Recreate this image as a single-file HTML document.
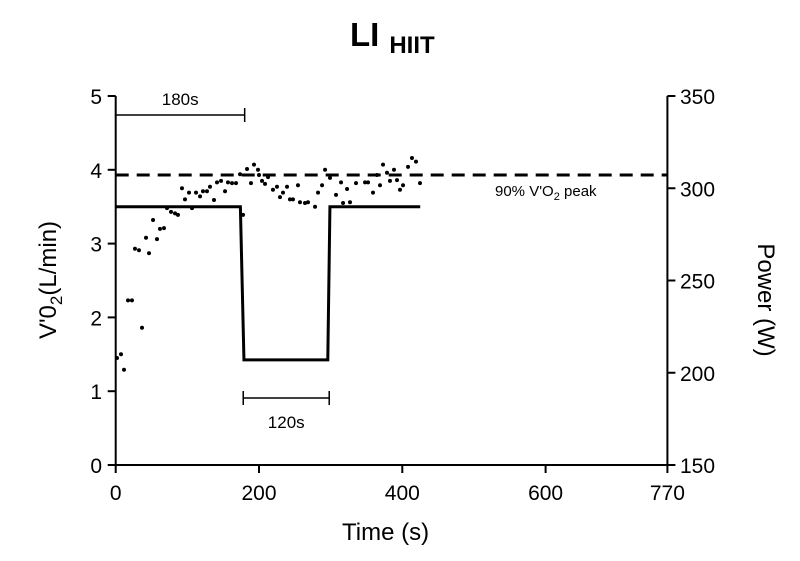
<!DOCTYPE html>
<html><head><meta charset="utf-8"><style>
body{margin:0;background:#fff;}
svg text{font-family:"Liberation Sans",Arial,sans-serif;fill:#000;}
</style></head><body>
<svg id="chart" width="800" height="556" viewBox="0 0 800 556" xmlns="http://www.w3.org/2000/svg">
<text x="350" y="46" font-size="33" font-weight="bold">LI<tspan font-size="24" dx="10" dy="7">HIIT</tspan></text>
<g id="axes"></g><g id="marks"></g>
</svg>
<script>
const xTicks=[0,200,400,600,770];
const yLeftTicks=[0,1,2,3,4,5];
const yRightTicks=[150,200,250,300,350];
const vo2Time=[1.8,7.4,11.6,17.2,22.7,26.9,32.5,36.7,42.3,46.5,52.1,57.6,61.8,67.4,71.6,77.2,82.8,86.9,92.5,96.7,102.3,106.5,112.1,117.7,121.8,127.4,131.6,137.2,141.4,147,152.6,156.7,162.3,167.9,173.5,177.7,183.3,188.8,193,198.6,200,204.2,208.4,212.6,219.5,225.1,229.3,233.5,239.1,243.2,247.4,254.4,257.2,264.2,268.4,278.2,282.4,288,292.2,299.1,307.5,314.5,317.3,322.9,327,335.4,348,352.2,359.1,364.7,368.9,373.1,378.6,382.8,388.4,392.6,396.8,401,408,413.5,419.1,424.7];
const vo2Values=[1.45,1.5,1.29,2.23,2.23,2.93,2.91,1.86,3.08,2.87,3.32,3.06,3.2,3.21,3.48,3.43,3.41,3.39,3.75,3.6,3.69,3.48,3.69,3.64,3.71,3.71,3.77,3.59,3.83,3.85,3.71,3.83,3.82,3.82,3.94,3.39,4.01,3.82,4.07,4.0,3.93,3.85,3.81,3.9,3.73,3.77,3.63,3.69,3.77,3.6,3.6,3.79,3.56,3.55,3.56,3.5,3.69,3.79,4.0,3.89,3.66,3.83,3.55,3.74,3.56,3.82,3.83,3.83,3.69,3.93,3.79,4.07,3.96,3.85,4.0,3.86,3.73,3.79,4.04,4.16,4.11,3.82];
const powerTime=[0,174,179,296,299,425];
const powerValues=[290,290,207,207,290,290];
const peak90=3.93;
const ns="http://www.w3.org/2000/svg";
const X=t=>115.7+t*0.7165, YL=v=>465-v*73.8, YR=w=>465-(w-150)*1.845;
const axes=document.getElementById('axes'), marks=document.getElementById('marks');
function mk(p,tag,a){const e=document.createElementNS(ns,tag);for(const k in a)e.setAttribute(k,a[k]);p.appendChild(e);return e;}
let e;
e=mk(axes,'path',{d:`M${X(0)} ${YL(5)}V${YL(0)}H${X(770)}V${YL(5)}`,fill:'none',stroke:'#000','stroke-width':2});


xTicks.forEach(t=>{
 e=mk(axes,'line',{x1:X(t),x2:X(t),y1:465,y2:473,stroke:'#000','stroke-width':2});
 
 
 e=mk(axes,'text',{x:X(t),y:500,'font-size':21,'text-anchor':'middle'});e.textContent=t;
 
 
});
yLeftTicks.forEach(v=>{
 e=mk(axes,'line',{x1:X(0)-8,x2:X(0),y1:YL(v),y2:YL(v),stroke:'#000','stroke-width':2});
 
 
 e=mk(axes,'text',{x:102,y:YL(v)+8,'font-size':21,'text-anchor':'end'});e.textContent=v;
 
 
});
yRightTicks.forEach(w=>{
 e=mk(axes,'line',{x1:X(770),x2:X(770)+8,y1:YR(w),y2:YR(w),stroke:'#000','stroke-width':2});
 
 
 e=mk(axes,'text',{x:680,y:YR(w)+8,'font-size':21});e.textContent=w;
 
 
});
e=mk(axes,'text',{x:X(385)-6,y:540,'font-size':24,'text-anchor':'middle'});e.textContent='Time (s)';


e=mk(axes,'text',{x:0,y:0,'font-size':24,'text-anchor':'middle',transform:'translate(56 280) rotate(-90)'});
e.innerHTML='V\'0<tspan font-size="17" dy="6">2</tspan><tspan dy="-6">(L/min)</tspan>';


e=mk(axes,'text',{x:0,y:0,'font-size':24,'text-anchor':'middle',transform:'translate(758 300) rotate(90)'});e.textContent='Power (W)';


// dashed line
e=mk(marks,'line',{x1:X(0),x2:X(770),y1:YL(peak90),y2:YL(peak90),stroke:'#000','stroke-width':3,'stroke-dasharray':'13 8'});


e=mk(marks,'text',{x:495,y:196,'font-size':15});
e.innerHTML='90% V\'O<tspan font-size="11" dy="4">2</tspan><tspan dy="-4"> peak</tspan>';


// power
e=mk(marks,'path',{d:powerTime.map((t,i)=>(i?'L':'M')+X(t)+' '+YR(powerValues[i])).join(''),fill:'none',stroke:'#000','stroke-width':3});


// dots
vo2Time.forEach((t,i)=>{
 e=mk(marks,'circle',{cx:X(t),cy:YL(vo2Values[i]),r:2,fill:'#000'});
 
 
});
// brackets
function bracket(t0,t1,y,label,ly,name){
 e=mk(marks,'path',{d:`M${X(t0)} ${y-7}V${y+7}M${X(t0)} ${y}H${X(t1)}M${X(t1)} ${y-7}V${y+7}`,fill:'none',stroke:'#000','stroke-width':1.5});
 
 
 e=mk(marks,'text',{x:(X(t0)+X(t1))/2,y:ly,'font-size':17,'text-anchor':'middle'});e.textContent=label;
 
 
}
bracket(0,180,115,'180s',105,'bracket-180s');
bracket(178,298,398,'120s',428,'bracket-120s');
</script>
</body></html>
